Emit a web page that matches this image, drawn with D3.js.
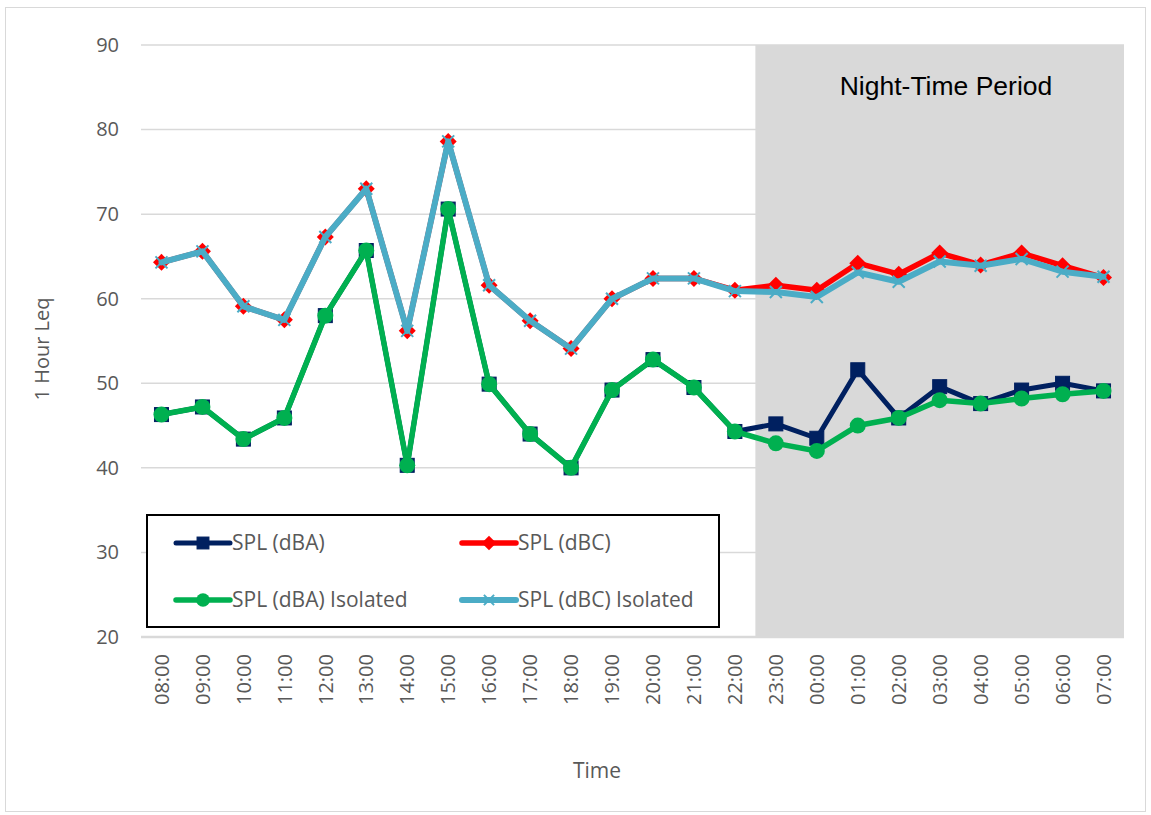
<!DOCTYPE html>
<html>
<head>
<meta charset="utf-8">
<script src="https://cdn.jsdelivr.net/npm/d3@7/dist/d3.min.js"></script>
<style>
  html, body { margin: 0; padding: 0; background: #fff; }
  svg { display: block; }
</style>
</head>
<body>
<svg id="chart" width="1151" height="815"></svg>
<script>
// Hourly sound pressure levels over a 24 hour survey
const times = ["08:00","09:00","10:00","11:00","12:00","13:00","14:00","15:00","16:00","17:00","18:00","19:00",
               "20:00","21:00","22:00","23:00","00:00","01:00","02:00","03:00","04:00","05:00","06:00","07:00"];
const splA    = [46.3,47.2,43.4,45.9,58.0,65.7,40.3,70.6,49.9,44.0,40.0,49.2,52.8,49.5,44.3,45.2,43.5,51.6,45.9,49.6,47.6,49.2,50.0,49.1];
const splC    = [64.3,65.6,59.1,57.5,67.3,73.0,56.2,78.6,61.6,57.4,54.1,60.0,62.4,62.4,61.0,61.6,61.0,64.2,62.9,65.4,64.0,65.4,63.9,62.5];
const splAIso = [46.3,47.2,43.4,45.9,58.0,65.7,40.3,70.6,49.9,44.0,40.0,49.2,52.8,49.5,44.3,42.9,42.0,45.0,45.9,48.0,47.6,48.2,48.7,49.1];
const splCIso = [64.3,65.6,59.1,57.5,67.3,73.0,56.2,78.6,61.6,57.4,54.1,60.0,62.4,62.4,60.9,60.8,60.2,63.1,62.0,64.4,63.9,64.7,63.2,62.6];
const yTicks  = [20,30,40,50,60,70,80,90];
const nightStart = "23:00";

const series = [
  { name: "SPL (dBA)",          values: splA,    color: "#002060", width: 5, marker: "square" },
  { name: "SPL (dBC)",          values: splC,    color: "#ff0000", width: 5.5, marker: "diamond" },
  { name: "SPL (dBA) Isolated", values: splAIso, color: "#00b050", width: 5.5, marker: "circle" },
  { name: "SPL (dBC) Isolated", values: splCIso, color: "#4bacc6", width: 6, marker: "cross" }
];

const svg = d3.select("#chart");
const plot = { left: 141, right: 1124, top: 45, bottom: 637 };
const textColor = "#595959";
const uiFont = "'Open Sans', sans-serif";

// outer chart frame
svg.append("rect").attr("x", 5.5).attr("y", 7.5).attr("width", 1140).attr("height", 804)
  .attr("fill", "#fff").attr("stroke", "#d9d9d9").attr("stroke-width", 1);

const x = d3.scaleBand().domain(times).range([plot.left, plot.right]).paddingInner(0).paddingOuter(0);
const cx = t => x(t) + x.bandwidth() / 2;
const y = d3.scaleLinear().domain([20, 90]).range([plot.bottom, plot.top]);

// gridlines
const gridG = svg.append("g");
gridG.selectAll("line").data(yTicks.filter(v => v > 20)).join("line")
  .attr("x1", plot.left).attr("x2", plot.right)
  .attr("y1", d => y(d)).attr("y2", d => y(d))
  .attr("stroke", "#d9d9d9").attr("stroke-width", 1.5);

// shaded night-time band
svg.append("rect")
  .attr("x", x(nightStart)).attr("y", y(90))
  .attr("width", plot.right - x(nightStart)).attr("height", y(20) - y(90))
  .attr("fill", "#d9d9d9");

svg.append("text")
  .attr("x", 946).attr("y", 95)
  .attr("text-anchor", "middle")
  .attr("font-family", "'Liberation Sans', Arial, sans-serif")
  .attr("font-size", 26.5).attr("fill", "#000")
  .text("Night-Time Period");

// category axis baseline
svg.append("line").attr("x1", plot.left).attr("x2", plot.right)
  .attr("y1", y(20)).attr("y2", y(20))
  .attr("stroke", "#d9d9d9").attr("stroke-width", 2.5);

// y axis tick labels
const yAxis = d3.axisLeft(y).tickValues(yTicks).tickSize(0).tickPadding(0);
const yG = svg.append("g").attr("transform", `translate(119,0)`).call(yAxis);
yG.select(".domain").remove();
yG.selectAll("text").attr("font-family", uiFont).attr("font-size", 20).attr("fill", textColor);

// x axis tick labels, rotated
const xAxis = d3.axisBottom(x).tickSize(0).tickPadding(0);
const xG = svg.append("g").attr("transform", `translate(0,${plot.bottom})`).call(xAxis);
xG.select(".domain").remove();
xG.selectAll(".tick text")
  .attr("font-family", uiFont).attr("font-size", 20).attr("fill", textColor)
  .attr("text-anchor", "end")
  .attr("transform", "rotate(-90)")
  .attr("x", -17).attr("y", 0).attr("dy", "0.36em");

// axis titles
svg.append("text").attr("x", 597).attr("y", 778).attr("text-anchor", "middle")
  .attr("font-family", uiFont).attr("font-size", 21).attr("fill", textColor).text("Time");
svg.append("text").attr("transform", "translate(49,349) rotate(-90)").attr("text-anchor", "middle")
  .attr("font-family", uiFont).attr("font-size", 20).attr("fill", textColor).text("1 Hour Leq");

// marker shapes
function drawMarker(g, s, px, py, scale) {
  const k = scale || 1;
  if (s.marker === "square") {
    g.append("rect").attr("x", px - 7 * k).attr("y", py - 7 * k).attr("width", 14 * k).attr("height", 14 * k)
      .attr("fill", s.color).attr("stroke", s.color).attr("stroke-width", 1);
  } else if (s.marker === "diamond") {
    const r = 8.5 * k;
    g.append("path").attr("d", `M${px},${py - r}L${px + r},${py}L${px},${py + r}L${px - r},${py}Z`)
      .attr("fill", s.color);
  } else if (s.marker === "circle") {
    g.append("circle").attr("cx", px).attr("cy", py).attr("r", 8 * k).attr("fill", s.color);
  } else if (s.marker === "cross") {
    const r = 6 * k;
    g.append("path").attr("d", `M${px - r},${py - r}L${px + r},${py + r}M${px - r},${py + r}L${px + r},${py - r}`)
      .attr("stroke", s.color).attr("stroke-width", 2).attr("fill", "none");
  }
}

// series lines and markers
const line = d3.line().x((d, i) => cx(times[i])).y(d => y(d));
series.forEach(s => {
  const g = svg.append("g");
  g.append("path").datum(s.values).attr("d", line)
    .attr("fill", "none").attr("stroke", s.color).attr("stroke-width", s.width)
    .attr("stroke-linejoin", "round").attr("stroke-linecap", "round");
  s.values.forEach((v, i) => drawMarker(g, s, cx(times[i]), y(v)));
});

// legend
const legend = svg.append("g");
legend.append("rect").attr("x", 147).attr("y", 515).attr("width", 572).attr("height", 112)
  .attr("fill", "#fff").attr("stroke", "#000").attr("stroke-width", 2);
const legendPos = [[176, 543], [462, 543], [176, 600], [462, 600]];
series.forEach((s, i) => {
  const [lx, ly] = legendPos[i];
  const g = legend.append("g");
  g.append("line").attr("x1", lx).attr("x2", lx + 54).attr("y1", ly).attr("y2", ly)
    .attr("stroke", s.color).attr("stroke-width", s.width).attr("stroke-linecap", "round");
  drawMarker(g, s, lx + 27, ly, 0.85);
  g.append("text").attr("x", lx + 56).attr("y", ly).attr("dy", "0.35em")
    .attr("font-family", uiFont).attr("font-size", 21).attr("fill", textColor).text(s.name);
});
</script>
</body>
</html>
